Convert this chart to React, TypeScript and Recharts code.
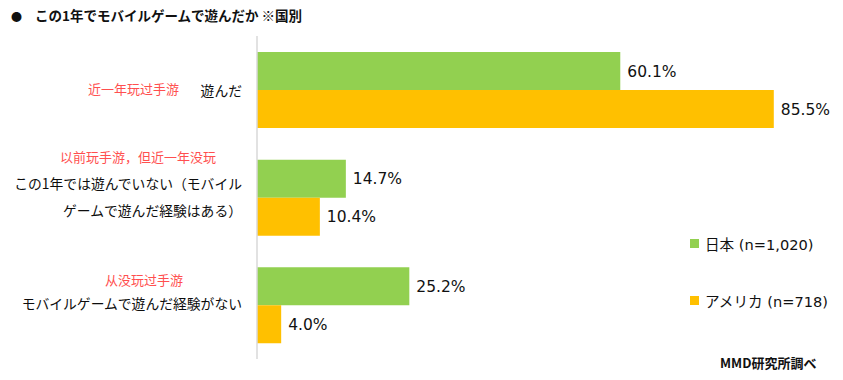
import React from 'react';
import { BarChart, Bar, XAxis, YAxis, LabelList } from 'recharts';

const categoryLines: string[][] = [
  ['遊んだ'],
  ['この1年では遊んでいない（モバイル', 'ゲームで遊んだ経験はある）'],
  ['モバイルゲームで遊んだ経験がない'],
];
const annotations: string[] = ['近一年玩过手游', '以前玩手游，但近一年没玩', '从没玩过手游'];
const japanValues: number[] = [60.1, 14.7, 25.2];
const usaValues: number[] = [85.5, 10.4, 4.0];
const seriesNames: string[] = ['日本 (n=1,020)', 'アメリカ (n=718)'];
const title = 'この1年でモバイルゲームで遊んだか ※国別';
const source = 'MMD研究所調べ';

const GREEN = '#92D050';
const ORANGE = '#FFC000';
const seriesColors = [GREEN, ORANGE];

const data = categoryLines.map((lines, i) => ({
  cat: String(i),
  japan: japanValues[i],
  usa: usaValues[i],
}));

// layout for the category label blocks (styling only)
const lineOffsets: number[][] = [[0], [-14.5, 12.5], [-2]];
const noteX: number[] = [88, 60, 105];
const noteDy: number[] = [-1, -41.5, -26];

const JP = "'Noto Sans CJK JP', sans-serif";
const SC = "'Noto Sans CJK SC', sans-serif";
const NUM = "'DejaVu Sans', 'Noto Sans CJK JP', sans-serif";

const CatTick = (props: any) => {
  const { y, payload } = props;
  const i = Number(payload.value);
  return (
    <g>
      <text x={noteX[i]} y={y + noteDy[i]} fill="#FF4F4F" fontSize={13} fontFamily={SC} dominantBaseline="central" textAnchor="start">
        {annotations[i]}
      </text>
      {categoryLines[i].map((l, k) => (
        <text key={k} x={242} y={y + lineOffsets[i][k]} fill="#0d0d0d" fontSize={13.8} fontFamily={JP} dominantBaseline="central" textAnchor="end">
          {l}
        </text>
      ))}
    </g>
  );
};

const fmt = (v: any) => Number(v).toFixed(1) + '%';

export default function App() {
  return (
    <div style={{ position: 'absolute', left: 0, top: 0, width: 843, height: 380, background: '#fff' }}>
      <div style={{ position: 'absolute', left: 11, top: 6, fontSize: 11, fontFamily: JP, color: '#111', lineHeight: '20px' }}>●</div>
      <div style={{ position: 'absolute', left: 35, top: 5, fontSize: 13.5, fontWeight: 'bold', fontFamily: JP, color: '#111', lineHeight: '20px' }}>
        {title}
      </div>
      <BarChart
        width={843}
        height={380}
        layout="vertical"
        data={data}
        margin={{ top: 36, right: 42, bottom: 21, left: 0 }}
        barSize={38}
        barGap={0}
      >
        <XAxis type="number" domain={[0, 90]} hide />
        <YAxis
          type="category"
          dataKey="cat"
          width={257}
          axisLine={{ stroke: '#d9d9d9', strokeWidth: 1.5 }}
          tickLine={false}
          tick={<CatTick />}
        />
        <Bar dataKey="japan" fill={GREEN} isAnimationActive={false}>
          <LabelList dataKey="japan" position="right" offset={7} formatter={fmt} style={{ fontFamily: NUM, fontSize: 15.5, fill: '#111' }} />
        </Bar>
        <Bar dataKey="usa" fill={ORANGE} isAnimationActive={false}>
          <LabelList dataKey="usa" position="right" offset={7} formatter={fmt} style={{ fontFamily: NUM, fontSize: 15.5, fill: '#111' }} />
        </Bar>
      </BarChart>
      <div style={{ position: 'absolute', left: 690, top: 233, fontFamily: NUM, fontSize: 14.6, color: '#111' }}>
        {seriesNames.map((n, i) => (
          <div key={i} style={{ display: 'flex', alignItems: 'center', height: 20, marginBottom: i === 0 ? 37 : 0 }}>
            <span style={{ display: 'inline-block', width: 9, height: 9, background: seriesColors[i], marginRight: 6 }} />
            <span>{n}</span>
          </div>
        ))}
      </div>
      <div style={{ position: 'absolute', left: 720, top: 353, fontSize: 13, fontWeight: 'bold', fontFamily: JP, color: '#111', lineHeight: '20px' }}>
        {source}
      </div>
    </div>
  );
}
